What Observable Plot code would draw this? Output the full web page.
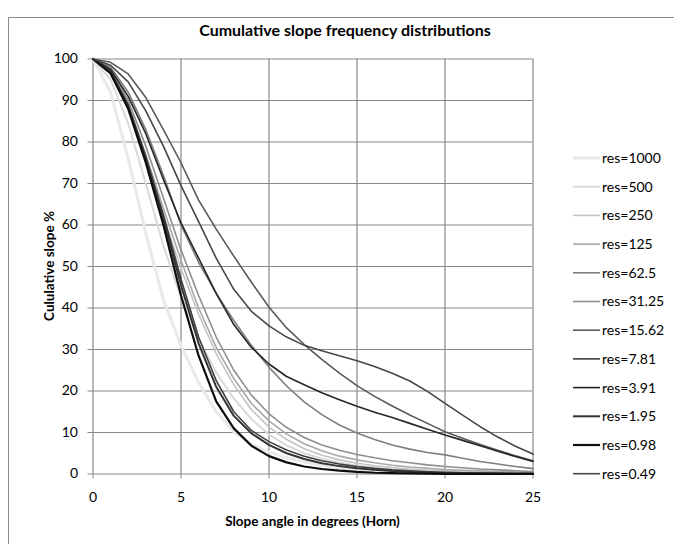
<!DOCTYPE html>
<html><head><meta charset="utf-8">
<script src="https://cdn.jsdelivr.net/npm/d3@7"></script>
<script src="https://cdn.jsdelivr.net/npm/@observablehq/plot@0.6"></script>
<style>
body{margin:0;background:#fff;}
#chart{position:relative;width:674px;height:544px;overflow:hidden;background:#fff;}
</style></head><body><div id="chart"></div>
<script>
// ---- data ----
const slopeDeg = [0,1,2,3,4,5,6,7,8,9,10,11,12,13,14,15,16,17,18,19,20,21,22,23,24,25];
const xTicks = [0,5,10,15,20,25];
const yTicks = [0,10,20,30,40,50,60,70,80,90,100];
const resLabels = ["res=1000","res=500","res=250","res=125","res=62.5","res=31.25","res=15.62","res=7.81","res=3.91","res=1.95","res=0.98","res=0.49"];

const res1000 = [100,92,76,58,42,31,22,15,10.2,7.2,5.3,3.9,2.9,2.1,1.5,1.1,0.8,0.6,0.45,0.35,0.25,0.2,0.15,0.12,0.1,0.08];
const res500  = [100,95,84.5,70,55,42.5,32.5,24.5,18.2,13.2,9.5,6.9,5,3.7,2.7,2,1.5,1.1,0.85,0.65,0.5,0.4,0.3,0.25,0.2,0.15];
const res250  = [100,96.5,88,75.5,62,49.5,38.5,29,21.5,15.5,11.3,8.3,6.1,4.5,3.4,2.6,2,1.55,1.2,0.95,0.75,0.6,0.5,0.4,0.32,0.25];
const res125  = [100,97,89,77,64,51.5,40,30.5,23,17,12.8,9.6,7.3,5.6,4.3,3.4,2.7,2.1,1.7,1.4,1.1,0.9,0.75,0.6,0.5,0.4];
const res62_5 = [100,98,92,83,72,60,51,43.5,37,31,25.7,21.2,17.4,14.3,11.8,9.9,8.3,7,6,5.2,4.6,3.8,3,2.4,1.8,1.3];
const res31_25= [100,97.5,90,79,66.5,54,43,33,25,19,14.5,11.2,8.8,7,5.7,4.7,3.9,3.2,2.7,2.2,1.8,1.5,1.2,1,0.8,0.6];
const res15_62= [100,99.2,96.4,90.7,83,75,66,59,52.5,46.2,40.2,35.2,31.2,27.6,24.3,21.3,18.7,16.4,14.2,12.2,10.2,8.6,7.1,5.7,4.4,3.2];
const res7_81 = [100,97,89,76.5,62.5,47,33,22.5,15,10.5,7.8,5.8,4.3,3.2,2.4,1.8,1.35,1,0.75,0.55,0.4,0.3,0.22,0.16,0.12,0.09];
const res3_91 = [100,97.5,91,82,71,60.5,52,43.5,36,30.5,26.5,23.5,21.5,19.6,17.9,16.3,14.9,13.6,12.2,10.8,9.4,8.1,6.8,5.5,4.2,3];
const res1_95 = [100,96.8,88.5,76,61.5,45.5,31.5,21,14,9.8,7,5,3.6,2.6,1.9,1.4,1,0.7,0.5,0.35,0.25,0.18,0.13,0.1,0.07,0.05];
const res0_98 = [100,96.5,88,75,60,43,28.5,17.5,11,6.8,4.3,2.8,1.8,1.2,0.8,0.5,0.3,0.2,0.12,0.08,0.05,0.04,0.03,0.02,0.02,0.01];
const res0_49 = [100,98.5,94.5,87.5,79,69.5,60.8,52,44.5,39.2,35.7,33,31,29.7,28.5,27.3,25.9,24.3,22.4,19.9,17,14.2,11.4,8.9,6.7,4.8];

const seriesValues = [res1000,res500,res250,res125,res62_5,res31_25,res15_62,res7_81,res3_91,res1_95,res0_98,res0_49];
const seriesColors = ["#e9e9e9","#d9d9d9","#c4c4c4","#a8a8a8","#7f7f7f","#8e8e8e","#595959","#404040","#262626","#333333","#0d0d0d","#474747"];
const seriesWidths = [3,2,1.6,1.6,1.6,1.6,1.6,1.6,1.6,2,2.2,1.6];

// ---- build ----
const series = resLabels.map((label, i) => ({
  label, color: seriesColors[i], width: seriesWidths[i],
  rows: slopeDeg.map((x, j) => ({res: label, x, y: seriesValues[i][j]}))
}));

const gridColor = "#878787";
const font = "Lato, 'Open Sans', sans-serif";

const plot = Plot.plot({
  width: 674, height: 544,
  marginLeft: 92.5, marginRight: 141.5, marginTop: 58.5, marginBottom: 70.5,
  style: {fontFamily: font, fontSize: "14px", color: "#000", background: "#fff", overflow: "visible"},
  x: {domain: [0, 25], label: null},
  y: {domain: [0, 100], label: null},
  marks: [
    Plot.gridX(xTicks, {stroke: gridColor, strokeOpacity: 1, strokeWidth: 1.2}),
    Plot.gridY(yTicks, {stroke: gridColor, strokeOpacity: 1, strokeWidth: 1.2}),
    Plot.axisX(xTicks, {tickSize: 5, tickPadding: 13, stroke: gridColor, fill: "#000", fontSize: 14, label: null}),
    Plot.axisY(yTicks, {tickSize: 5, tickPadding: 10, stroke: gridColor, fill: "#000", fontSize: 14, label: null}),
    ...series.map(s => Plot.line(s.rows, {x: "x", y: "y", stroke: s.color, strokeWidth: s.width}))
  ]
});

document.getElementById("chart").appendChild(plot);
const svg = d3.select(plot);

// chart-area border
svg.append("path").attr("d", "M8.5,544V17.5H674").attr("fill", "none").attr("stroke", "#8a8a8a").attr("stroke-width", 1);

// titles
svg.append("text").attr("x", 345).attr("y", 36).attr("text-anchor", "middle")
  .attr("font-family", font).attr("font-weight", "bold").attr("font-size", 16).attr("fill", "#000")
  .text("Cumulative slope frequency distributions");
svg.append("text").attr("x", 312.5).attr("y", 526).attr("text-anchor", "middle")
  .attr("font-family", font).attr("font-weight", "bold").attr("font-size", 13.5).attr("fill", "#000")
  .text("Slope angle in degrees (Horn)");
svg.append("text").attr("transform", "translate(54,266) rotate(-90)").attr("text-anchor", "middle")
  .attr("font-family", font).attr("font-weight", "bold").attr("font-size", 13.5).attr("fill", "#000")
  .text("Cululative slope %");

// legend
const lg = svg.append("g");
series.forEach((s, i) => {
  const y = 158 + i * 28.7;
  lg.append("line").attr("x1", 573).attr("x2", 600).attr("y1", y).attr("y2", y)
    .attr("stroke", s.color).attr("stroke-width", s.width);
  lg.append("text").attr("x", 602).attr("y", y).attr("dy", "0.35em").attr("text-anchor", "start")
    .attr("font-family", font).attr("font-size", 14).attr("fill", "#000").text(s.label);
});
</script></body></html>
